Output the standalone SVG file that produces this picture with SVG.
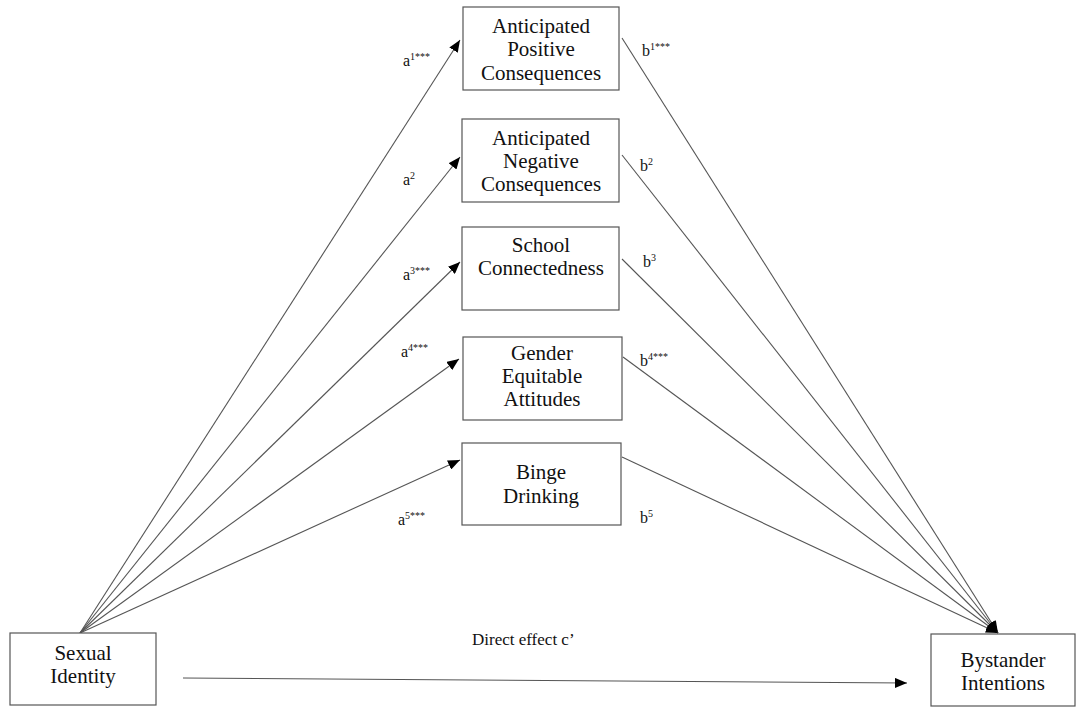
<svg xmlns="http://www.w3.org/2000/svg" width="1076" height="707" viewBox="0 0 1076 707">
<style>
.box{fill:#fff;stroke:#555;stroke-width:1.2}
.t{font-family:"Liberation Serif","Times New Roman",serif;font-size:21px;fill:#111;text-anchor:middle}
.l{font-family:"Liberation Serif","Times New Roman",serif;font-size:16px;fill:#111}
.s{font-size:10px}
.c{stroke:#555;stroke-width:1.1;fill:none}
</style>
<defs>
<marker id="ah" markerWidth="12" markerHeight="10" refX="12" refY="5" orient="auto" markerUnits="userSpaceOnUse">
<path d="M0,0 L12,5 L0,10 Z" fill="#000"/>
</marker>
</defs>
<rect width="1076" height="707" fill="#fff"/>
<g id="connectors">
<line class="c" x1="80" y1="633" x2="460" y2="40" marker-end="url(#ah)"/>
<line class="c" x1="80" y1="633" x2="460" y2="157" marker-end="url(#ah)"/>
<line class="c" x1="80" y1="633" x2="460" y2="262" marker-end="url(#ah)"/>
<line class="c" x1="80" y1="633" x2="459" y2="359" marker-end="url(#ah)"/>
<line class="c" x1="80" y1="633" x2="460" y2="460" marker-end="url(#ah)"/>
<line class="c" x1="622" y1="38" x2="998" y2="633" marker-end="url(#ah)"/>
<line class="c" x1="622" y1="155" x2="998" y2="633" marker-end="url(#ah)"/>
<line class="c" x1="622" y1="259" x2="998" y2="633" marker-end="url(#ah)"/>
<line class="c" x1="623" y1="357" x2="998" y2="633" marker-end="url(#ah)"/>
<line class="c" x1="622" y1="457" x2="998" y2="633" marker-end="url(#ah)"/>
<line class="c" x1="183" y1="678" x2="907" y2="683" marker-end="url(#ah)"/>
</g>
<g id="n1"><rect class="box" x="463" y="7" width="156" height="83"/>
<text class="t" x="541" y="33">Anticipated</text><text class="t" x="541" y="56">Positive</text><text class="t" x="541" y="80">Consequences</text></g>
<g id="n2"><rect class="box" x="462" y="119" width="157" height="83"/>
<text class="t" x="541" y="145">Anticipated</text><text class="t" x="541" y="168">Negative</text><text class="t" x="541" y="191">Consequences</text></g>
<g id="n3"><rect class="box" x="462" y="227" width="157" height="83"/>
<text class="t" x="541" y="252">School</text><text class="t" x="541" y="275">Connectedness</text></g>
<g id="n4"><rect class="box" x="463" y="337" width="159" height="83"/>
<text class="t" x="542" y="360">Gender</text><text class="t" x="542" y="383">Equitable</text><text class="t" x="542" y="406">Attitudes</text></g>
<g id="n5"><rect class="box" x="462" y="443" width="159" height="82"/>
<text class="t" x="541" y="479">Binge</text><text class="t" x="541" y="503">Drinking</text></g>
<g id="n6"><rect class="box" x="10" y="633" width="146" height="72"/>
<text class="t" x="83" y="660">Sexual</text><text class="t" x="83" y="683">Identity</text></g>
<g id="n7"><rect class="box" x="931" y="634" width="144" height="72"/>
<text class="t" x="1003" y="667">Bystander</text><text class="t" x="1003" y="690">Intentions</text></g>
<g id="labels">
<text class="l" x="403" y="66">a<tspan class="s" dy="-6">1***</tspan></text>
<text class="l" x="642" y="56">b<tspan class="s" dy="-6">1***</tspan></text>
<text class="l" x="403" y="185">a<tspan class="s" dy="-6">2</tspan></text>
<text class="l" x="640" y="171">b<tspan class="s" dy="-6">2</tspan></text>
<text class="l" x="403" y="280">a<tspan class="s" dy="-6">3***</tspan></text>
<text class="l" x="643" y="267">b<tspan class="s" dy="-6">3</tspan></text>
<text class="l" x="401" y="357">a<tspan class="s" dy="-6">4***</tspan></text>
<text class="l" x="640" y="366">b<tspan class="s" dy="-6">4***</tspan></text>
<text class="l" x="398" y="525">a<tspan class="s" dy="-6">5***</tspan></text>
<text class="l" x="640" y="523">b<tspan class="s" dy="-6">5</tspan></text>
<text class="l" x="472" y="645" style="font-size:17px">Direct effect c’</text>
</g>
</svg>
